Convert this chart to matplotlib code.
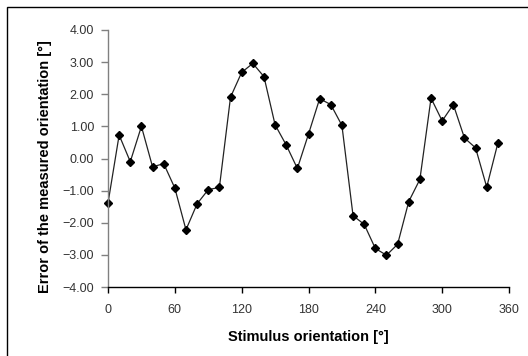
import matplotlib
matplotlib.use("Agg")
import matplotlib.pyplot as plt
from matplotlib.patches import Rectangle

plt.rcParams['font.family'] = ['Liberation Sans', 'DejaVu Sans']

orientation = list(range(0, 360, 10))
error = [-1.39, 0.73, -0.10, 1.00, -0.26, -0.16, -0.92, -2.22, -1.41, -0.97,
         -0.90, 1.91, 2.68, 2.96, 2.55, 1.05, 0.42, -0.31, 0.76, 1.86,
         1.68, 1.03, -1.78, -2.05, -2.80, -3.01, -2.67, -1.34, -0.65, 1.88,
         1.17, 1.68, 0.64, 0.33, -0.89, 0.48]
x_ticks = [0, 60, 120, 180, 240, 300, 360]
y_ticks = [-4, -3, -2, -1, 0, 1, 2, 3, 4]

W, H = 528, 356
fig = plt.figure(figsize=(W / 100, H / 100), dpi=100)
fig.patch.set_facecolor('white')
fig.patches.append(Rectangle((7 / W, -0.1), 1.2, 1 - 7 / H + 0.1, transform=fig.transFigure,
                             fill=False, edgecolor='black', lw=1.0, zorder=0))

ax = fig.add_axes([108 / W, 1 - 287 / H, 401 / W, 257 / H])
ax.plot(orientation, error, color='#222222', lw=0.9, marker='D', markersize=3.6,
        markerfacecolor='black', markeredgecolor='black', clip_on=False)

ax.set_xlim(0, 360)
ax.set_ylim(-4, 4)
ax.set_xticks(x_ticks)
ax.set_yticks(y_ticks)
ax.set_yticklabels([f"{v:.2f}".replace('-', '\u2212') for v in y_ticks])
ax.set_xticklabels([str(v) for v in x_ticks])

for s in ['top', 'right']:
    ax.spines[s].set_visible(False)
ax.spines['left'].set_color('#808080')
ax.spines['bottom'].set_color('black')
ax.spines['left'].set_linewidth(1.0)
ax.spines['bottom'].set_linewidth(1.0)
ax.tick_params(axis='y', direction='out', length=5, width=1, color='#808080',
               labelsize=9, labelcolor='#333333', pad=5)
ax.tick_params(axis='x', direction='out', length=4, width=1, color='black',
               labelsize=9, labelcolor='#333333', pad=8)

ax.set_xlabel('Stimulus orientation [°]', fontsize=10.5, fontweight='bold', labelpad=10)
ax.set_ylabel('Error of the measured orientation [°]', fontsize=10.5, fontweight='bold')
ax.yaxis.set_label_coords(-0.14, 0.47)

fig.savefig('out.png', dpi=100)
